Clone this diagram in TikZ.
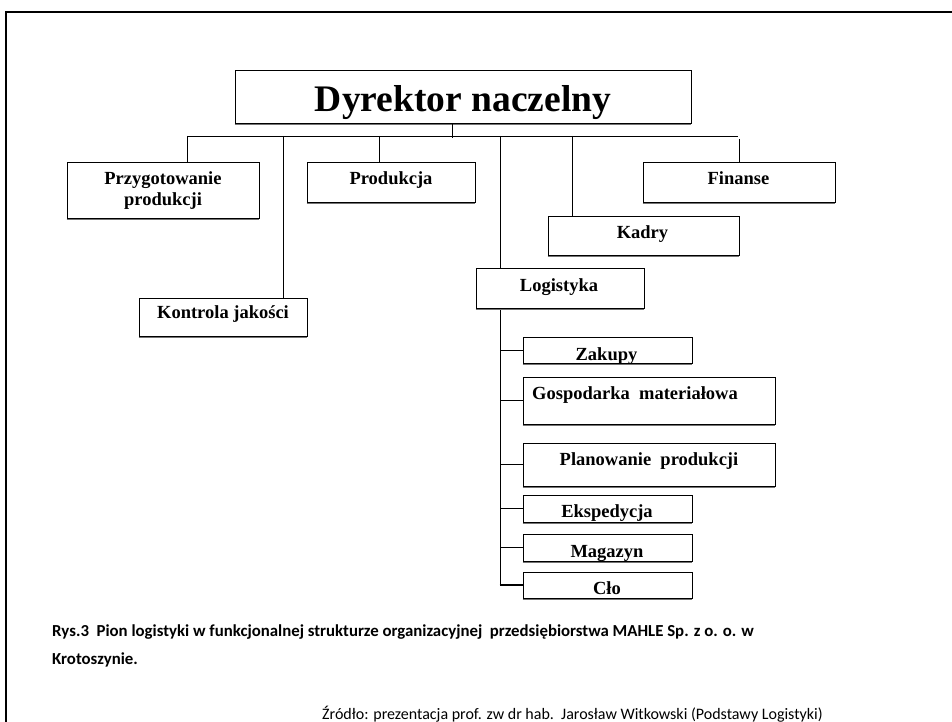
\documentclass[tikz,border=0pt]{standalone}
\usepackage{fontspec}
\setmainfont{Liberation Serif}
\newfontfamily\capfont{Carlito}
\begin{document}
\begin{tikzpicture}[x=1pt,y=-1pt,
  unitbox/.style={draw, line width=0.9pt, inner sep=0pt, fill=white},
  boxshade/.style={draw=black!55, line width=1.1pt},
  lbl/.style={anchor=base, inner sep=0pt, font=\bfseries\fontsize{18.5}{21}\selectfont},
  link/.style={line width=0.9pt},
  caption/.style={anchor=base west, inner sep=0pt, font=\capfont\bfseries\fontsize{16.8}{20}\selectfont},
  source/.style={anchor=base west, inner sep=0pt, font=\capfont\fontsize{16}{19}\selectfont}]
\useasboundingbox (0,0) rectangle (952,722);
\fill[white] (0,0) rectangle (952,722);

% outer frame of the slide
\draw[line width=2.2pt] (6,740) -- (6,12) -- (970,12);

% boxes
\node[unitbox, minimum width=456pt, minimum height=53pt] (dyr) at (463,96.5) {};
\node[unitbox, minimum width=192pt, minimum height=56pt] (przyg) at (163,190) {};
\node[unitbox, minimum width=168pt, minimum height=40pt] (prod) at (391,182) {};
\node[unitbox, minimum width=192pt, minimum height=40pt] (fin) at (739,182) {};
\node[unitbox, minimum width=191pt, minimum height=39pt] (kadry) at (643.5,235.5) {};
\node[unitbox, minimum width=168pt, minimum height=38pt] (kontr) at (223,317) {};
\node[unitbox, minimum width=168pt, minimum height=40pt] (log) at (560,288) {};
\node[unitbox, minimum width=169pt, minimum height=26pt] (zak) at (607.5,350) {};
\node[unitbox, minimum width=252pt, minimum height=47pt] (gosp) at (649,400.5) {};
\node[unitbox, minimum width=252pt, minimum height=43pt] (plan) at (649,464.5) {};
\node[unitbox, minimum width=169pt, minimum height=27pt] (eksp) at (607.5,508.5) {};
\node[unitbox, minimum width=169pt, minimum height=27pt] (mag) at (607.5,547.5) {};
\node[unitbox, minimum width=169pt, minimum height=26pt] (clo) at (607.5,585) {};

% soft shading along the lower edges
\foreach \b in {dyr,przyg,prod,fin,kadry,kontr,log,zak,gosp,plan,eksp,mag,clo}
  \draw[boxshade] ([yshift=-1pt]\b.south west) -- ([yshift=-1pt]\b.south east);

% labels
\node[inner sep=0pt, anchor=base, font=\bfseries\fontsize{37.5}{40}\selectfont] (dyrl) at (463,112) {Dyrektor naczelny};
\node[lbl] (przl1) at (163,184) {Przygotowanie};
\node[lbl] (przl2) at (163,205) {produkcji};
\node[lbl] (prodl) at (391,184) {Produkcja};
\node[lbl] (finl) at (738.5,185) {Finanse};
\node[lbl] (kadl) at (642.5,238) {Kadry};
\node[lbl] (kontl) at (223,318) {Kontrola jakości};
\node[lbl] (logl) at (559,291) {Logistyka};
\node[lbl] (zakl) at (606.5,360) {Zakupy};
\node[lbl, anchor=base west] (gospl) at (532,399) {Gospodarka\ \ materiałowa};
\node[lbl] (planl) at (649,465) {Planowanie\ \ produkcji};
\node[lbl] (ekspl) at (607,517) {Ekspedycja};
\node[lbl] (magl) at (607,557) {Magazyn};
\node[lbl] (clol) at (607,594) {Cło};

% upper level connectors
\coordinate (busL) at (187,136);
\coordinate (busR) at (738,136);
\coordinate (stub) at (452,138);
\coordinate (c2) at (283,136);
\coordinate (c3) at (379,136);
\coordinate (c5) at (500,136);
\coordinate (c6) at (572,136);
\coordinate (c7) at (739,139);
\draw[link] (busL) -- (busR);
\draw[link] (stub |- dyr.south) -- (stub);
\draw[link] (busL) -- (busL |- przyg.north);
\draw[link] (c2) -- (c2 |- kontr.north);
\draw[link] (c3) -- (c3 |- prod.north);
\draw[link] (c5) -- (c5 |- log.north);
\draw[link] (c6) -- (c6 |- kadry.north);
\draw[link] (c7) -- (c7 |- fin.north);

% logistics branch
\coordinate (trunk) at (500,310);
\draw[link] (trunk) -- (trunk |- clo.west);
\foreach \b in {zak,gosp,plan,eksp,mag}
  \draw[link] (trunk |- \b.west) -- (\b.west);
\draw[line width=1.8pt] ([xshift=-0.45pt]trunk |- clo.west) -- (clo.west);

% caption and source
\node[caption] (cap1) at (52,636) {Rys.3\ \ Pion logistyki w funkcjonalnej strukturze organizacyjnej\ \ przedsiębiorstwa MAHLE Sp. z o. o. w};
\node[caption] (cap2) at (52,664) {Krotoszynie.};
\node[source] (src) at (322,719) {Źródło: prezentacja prof. zw dr hab.\ \ Jarosław Witkowski (Podstawy Logistyki)};
\end{tikzpicture}
\end{document}
